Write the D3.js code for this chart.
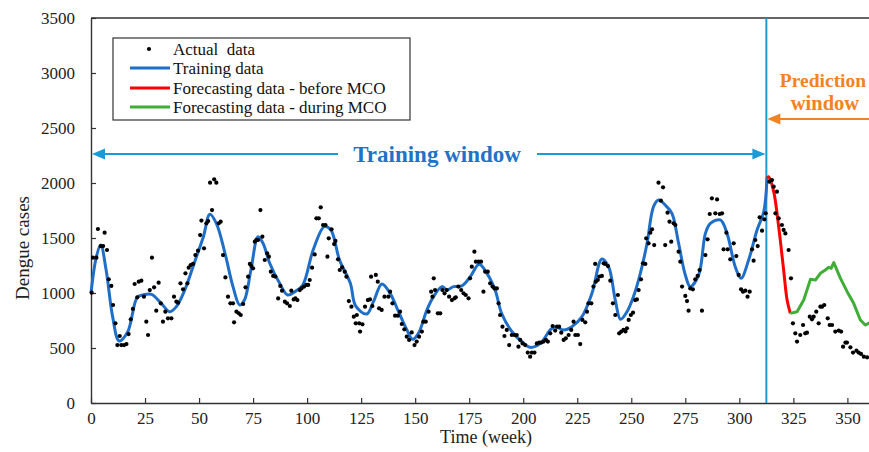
<!DOCTYPE html>
<html><head><meta charset="utf-8">
<script src="https://cdn.jsdelivr.net/npm/d3@7"></script>
<style>
body{margin:0;background:#fff}
svg{display:block}
svg text{font-family:"Liberation Serif","Times New Roman",serif}
</style></head>
<body><svg id="c" width="869" height="452"></svg>
<script>
// ---------- DATA ----------
const xTicks = [0,25,50,75,100,125,150,175,200,225,250,275,300,325,350];
const yTicks = [0,500,1000,1500,2000,2500,3000,3500];

const actualWeeks = [0.3,0.9,2.5,3.2,4.5,5.6,6.3,7.4,8.2,9.4,10.2,11.3,12.2,13.3,14.0,15.3,16.4,17.4,18.4,19.4,20.2,21.4,22.1,23.3,24.5,25.6,26.4,27.2,28.2,29.2,30.2,31.3,32.3,33.3,34.4,35.6,37.2,38.4,39.5,40.3,41.4,42.6,43.7,44.6,45.2,46.1,47.2,48.3,49.5,50.5,51.1,52.3,53.4,54.2,55.1,56.0,57.0,58.0,59.1,60.0,61.1,62.2,63.4,64.5,65.7,66.2,67.3,68.4,69.3,70.4,71.5,72.7,73.5,74.2,75.0,75.8,76.5,77.3,78.4,79.3,80.4,81.5,82.3,83.2,84.3,85.3,86.6,87.6,88.4,89.7,90.7,92.0,92.7,93.8,94.6,95.5,96.6,97.4,98.6,99.7,100.5,101.2,102.3,103.5,104.3,105.4,106.3,107.4,108.5,109.4,110.0,111.3,112.5,113.1,114.3,115.1,116.2,117.4,118.2,119.3,120.5,121.6,122.5,
123.0,124.1,124.5,125.6,126.8,128.1,129.1,130.2,129.6,131.8,132.7,133.3,134.5,135.8,137.6,138.4,139.5,140.7,142.0,143.0,143.8,145.0,146.1,147.2,148.4,149.7,150.7,151.8,153.1,153.8,154.9,156.2,157.4,158.0,158.6,159.2,160.5,161.6,162.6,163.6,164.6,165.7,167.0,168.2,168.8,170.0,171.3,172.4,173.4,174.7,175.4,176.2,177.4,178.1,179.3,180.5,181.6,182.4,183.6,184.7,185.8,186.7,187.8,188.6,189.3,190.4,191.3,192.4,193.5,194.7,196.0,197.0,197.8,198.6,199.7,200.9,202.1,203.2,204.0,205.2,206.3,207.4,208.3,209.4,210.5,211.4,212.5,213.6,214.8,215.6,216.6,217.6,218.7,219.7,221.0,222.2,223.3,224.1,225.3,226.4,227.4,228.7,229.5,230.2,231.5,232.5,233.6,233.3,234.5,235.2,236.4,237.2,237.9,239.2,240.3,241.5,242.6,243.8,244.4,245.4,246.4,
247.3,248.0,248.8,249.8,250.8,251.8,252.6,253.4,254.5,255.4,256.5,256.9,258.0,258.8,259.6,260.6,262.6,263.7,264.7,265.7,266.8,267.7,268.5,269.6,270.4,271.9,272.7,273.5,275.0,275.8,276.5,277.3,278.5,279.6,280.7,281.6,282.7,284.3,285.3,286.3,287.3,288.9,289.7,290.9,292.0,292.7,294.0,294.6,295.8,297.4,298.6,299.7,300.8,301.7,302.8,303.8,304.8,305.9,306.6,307.4,308.5,309.4,310.5,311.6,312.2,
313.9,315.1,315.9,317.4,316.7,318.2,319.7,320.5,321.3,322.8,323.9,324.8,325.9,326.7,328.2,329.5,330.5,331.3,332.6,333.6,334.4,335.6,336.7,337.5,338.3,339.3,340.9,341.8,342.9,344.4,346.0,347.1,348.0,349.1,349.8,351.4,352.6,354.2,355.2,356.3,357.6,359.1];

const actualCases = [1003,1321,1321,1582,1427,1427,1548,1391,1124,1064,891,724,527,609,527,527,536,627,761,855,1082,961,1103,1112,967,739,618,1027,1321,1052,839,1094,906,739,830,770,770,967,921,912,1088,1033,1179,1088,1230,1254,1264,1345,1385,1527,1658,1406,1633,1654,2003,1754,2033,2003,1633,1648,1345,1142,967,906,906,733,830,815,800,900,1052,1148,1264,1245,1224,1467,1482,1482,1754,1512,1300,1361,1330,1194,1155,1149,951,1064,1021,921,906,882,1021,942,951,936,1027,1042,1058,1073,1073,1118,1230,1351,1679,1679,1779,1618,1618,1330,1497,1579,1445,1473,1306,1209,1233,1194,1148,927,876,785,724,
800,724,649,715,876,936,942,882,1148,1164,1103,861,846,967,967,1012,906,794,794,830,718,670,603,573,642,527,558,603,649,739,739,830,1012,967,1133,1027,815,815,1027,997,1027,967,936,952,961,1058,1027,997,982,952,1133,1239,1376,1285,1285,1285,1012,1194,1194,1088,1058,1042,1042,906,800,694,609,664,527,618,618,618,512,573,542,527,458,421,458,458,542,549,549,558,573,558,633,700,658,694,694,639,573,588,618,664,739,618,618,536,755,733,830,906,906,1058,1103,1264,1118,1149,1155,1270,1264,1245,1112,906,800,982,633,649,664,
650,679,755,800,821,936,942,1027,1124,1270,1264,1497,1452,1548,1579,1436,2003,1839,1961,1436,1730,1648,1467,1633,1618,1376,1285,1058,973,927,839,1042,1033,1124,1155,1209,839,1345,1488,1718,1861,1724,1851,1718,1724,1397,1548,1397,1306,1452,1336,1164,1033,1012,1021,967,1012,1397,1294,1482,1427,1688,1567,1670,1724,
2012,2027,1967,1921,1724,1679,1618,1573,1542,1391,1133,724,633,558,618,709,633,639,785,761,785,830,724,876,876,891,770,709,709,649,658,649,512,549,549,506,458,476,458,446,421,415];

const trainWeeks = [0,2.5,4.5,7,10,13,17,21.4,24,28,32.5,36.4,39.5,43.4,48,52,55,58,62,65.7,68.8,71,74,77.3,79.6,82.7,87.3,91,94.3,98,102.8,108,111,115,120,122.5,127.6,130.7,134.6,138.4,142.3,146.2,148.8,151.5,155.4,158.5,162.4,164.7,167.7,171.6,175.5,179.6,183.2,187,190,194.8,199.4,203.2,207.9,212.5,214.8,218.7,222.5,227.2,231.8,236.4,239.5,242.6,245,248,251,254.2,257.3,260.3,262.6,265.7,268.8,271.9,275,277.3,281.2,284.3,286.6,291.2,294.3,298.1,300.8,304.3,308.2,311.3,312.8];
const trainCases = [1000,1330,1436,1209,785,564,648,961,982,988,906,830,876,1027,1285,1512,1715,1633,1361,1058,891,936,1209,1512,1452,1270,1088,982,1012,1073,1391,1603,1573,1300,1088,880,809,921,1082,997,830,664,579,633,845,967,1058,1027,1058,1064,1149,1261,1179,1027,815,648,557,506,542,664,694,664,694,785,997,1309,1239,936,761,830,967,1179,1452,1785,1845,1800,1724,1452,1164,1058,1164,1542,1633,1664,1542,1239,1133,1300,1573,1739,2042];

const beforeWeeks = [312.8,313.6,315.9,318.2,320.5,322.1,323.6];
const beforeCases = [2042,2057,1921,1603,1209,936,815];

const duringWeeks = [323.6,326.7,329.8,332.9,335.2,337.5,339.8,341.3,342.5,343.7,346.8,349.9,352.9,356,358.3,360.2];
const duringCases = [815,830,936,1124,1118,1179,1209,1233,1225,1276,1133,1012,906,755,709,730];

const splitWeek = 312.5;
const legendLabels = ["Actual  data","Training data","Forecasting data - before MCO","Forecasting data - during MCO"];

// ---------- CHART ----------
const FONT = "Liberation Serif, Times New Roman, serif";
const svg = d3.select("#c");
const L = 91, R = 869, T = 18, B = 403;
const x = d3.scaleLinear().domain([0,360]).range([L,R]);
const y = d3.scaleLinear().domain([0,3500]).range([B,T]);

const axisCol = "#333";
const blueArrow = "#1c9ad6";
const blueText = "#1f72c6";
const orange = "#f58220";

// axes
const gx = svg.append("g").attr("transform",`translate(0,${B})`)
  .call(d3.axisBottom(x).tickValues(xTicks).tickFormat(d3.format("d")).tickSize(-5).tickSizeOuter(0).tickPadding(9));
const gy = svg.append("g").attr("transform",`translate(${L},0)`)
  .call(d3.axisLeft(y).tickValues(yTicks).tickFormat(d3.format("d")).tickSize(-5).tickSizeOuter(0).tickPadding(16));
[gx,gy].forEach(g=>{
  g.attr("font-family",FONT).attr("font-size",17);
  g.select(".domain").attr("stroke",axisCol).attr("stroke-width",1.4);
  g.selectAll(".tick line").attr("stroke",axisCol).attr("stroke-width",1.2);
  g.selectAll(".tick text").attr("fill","#222");
});
// top frame
svg.append("line").attr("x1",L).attr("x2",R).attr("y1",T).attr("y2",T).attr("stroke",axisCol).attr("stroke-width",1.4);

// axis titles
svg.append("text").attr("x",486).attr("y",443).attr("text-anchor","middle")
  .attr("font-size",18).attr("fill","#222").text("Time (week)");
svg.append("text").attr("transform","translate(29,248) rotate(-90)").attr("text-anchor","middle")
  .attr("font-size",19).attr("fill","#222").text("Dengue cases");

// split line
svg.append("line").attr("x1",x(splitWeek)).attr("x2",x(splitWeek)).attr("y1",T).attr("y2",B)
  .attr("stroke",blueArrow).attr("stroke-width",2);

// lines
const lineGen = d3.line().x(d=>x(d[0])).y(d=>y(d[1]));
const trainPts = trainWeeks.map((w,i)=>[w,trainCases[i]]);
const beforePts = beforeWeeks.map((w,i)=>[w,beforeCases[i]]);
const duringPts = duringWeeks.map((w,i)=>[w,duringCases[i]]);
svg.append("path").datum(trainPts).attr("d",lineGen.curve(d3.curveCatmullRom.alpha(0.5)))
  .attr("fill","none").attr("stroke","#1f6fc8").attr("stroke-width",3);
svg.append("path").datum(beforePts).attr("d",lineGen.curve(d3.curveCatmullRom.alpha(0.5)))
  .attr("fill","none").attr("stroke","#ff0000").attr("stroke-width",3);
svg.append("path").datum(duringPts).attr("d",lineGen.curve(d3.curveLinear))
  .attr("fill","none").attr("stroke","#3fae35").attr("stroke-width",3).attr("stroke-linejoin","round");

// dots
svg.append("g").selectAll("circle").data(actualWeeks.map((w,i)=>[w,actualCases[i]])).join("circle")
  .attr("cx",d=>x(d[0])).attr("cy",d=>y(d[1])).attr("r",2.1).attr("fill","#000");

// arrows
function arrowHead(tipX, tipY, dir, color){
  const len = 13, h = 5.5;
  svg.append("path").attr("d",`M${tipX},${tipY} L${tipX+dir*len},${tipY-h} L${tipX+dir*len},${tipY+h} Z`).attr("fill",color);
}
const ay = 154;
svg.append("line").attr("x1",L+4).attr("x2",338).attr("y1",ay).attr("y2",ay).attr("stroke",blueArrow).attr("stroke-width",2);
svg.append("line").attr("x1",537).attr("x2",x(splitWeek)-6).attr("y1",ay).attr("y2",ay).attr("stroke",blueArrow).attr("stroke-width",2);
arrowHead(L+1, ay, 1, blueArrow);
arrowHead(x(splitWeek)-1, ay, -1, blueArrow);
svg.append("text").attr("x",437).attr("y",162).attr("text-anchor","middle")
  .attr("font-size",23).attr("font-weight","bold").attr("fill",blueText).text("Training window");

const oy = 119;
svg.append("line").attr("x1",x(splitWeek)+6).attr("x2",R).attr("y1",oy).attr("y2",oy).attr("stroke",orange).attr("stroke-width",2);
arrowHead(x(splitWeek)+1, oy, 1, orange);
svg.append("text").attr("x",823).attr("y",87).attr("text-anchor","middle")
  .attr("font-size",19.5).attr("font-weight","bold").attr("fill",orange).text("Prediction");
svg.append("text").attr("x",825).attr("y",110).attr("text-anchor","middle")
  .attr("font-size",20.5).attr("font-weight","bold").attr("fill",orange).text("window");

// legend
const lg = svg.append("g");
lg.append("rect").attr("x",113).attr("y",38).attr("width",297).attr("height",82)
  .attr("fill","#fff").attr("stroke",axisCol).attr("stroke-width",1.2);
const rowsY = [49,68,88,107];
const legCols = [null,"#1f6fc8","#ff0000","#3fae35"];
legendLabels.forEach((lab,i)=>{
  if(i===0){
    lg.append("circle").attr("cx",149).attr("cy",rowsY[i]).attr("r",2.1).attr("fill","#000");
  } else {
    lg.append("line").attr("x1",130).attr("x2",170).attr("y1",rowsY[i]).attr("y2",rowsY[i])
      .attr("stroke",legCols[i]).attr("stroke-width",3);
  }
  lg.append("text").attr("x",173).attr("y",rowsY[i]+5.5).attr("font-size",17).attr("fill","#111")
    .attr("xml:space","preserve").style("white-space","pre").text(lab);
});
</script></body></html>
